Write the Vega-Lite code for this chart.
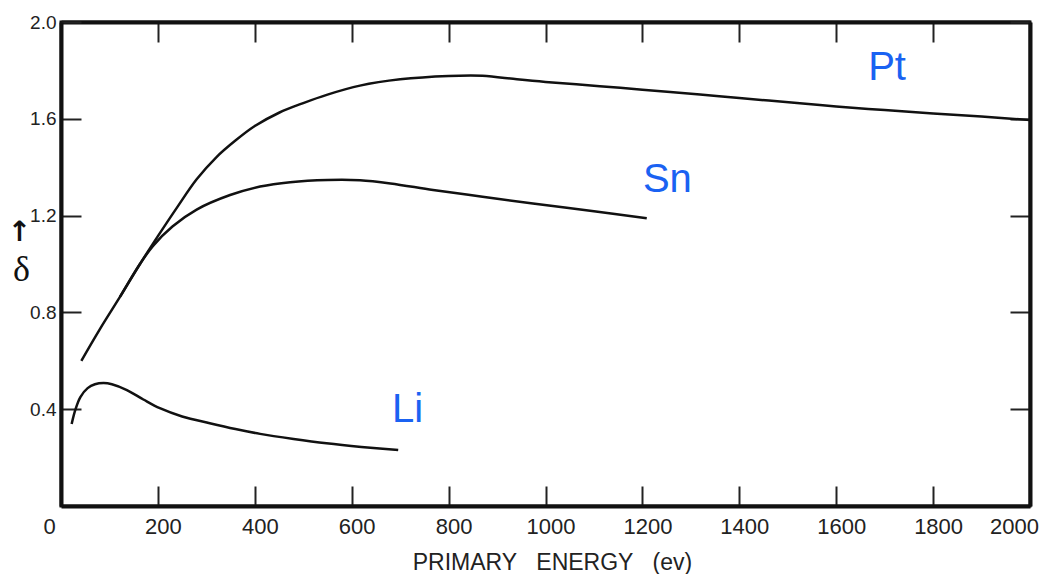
{
  "$schema": "https://vega.github.io/schema/vega-lite/v6.json",
  "width": 969,
  "height": 484,
  "autosize": {"type": "none"},
  "padding": {"left": 61, "top": 22, "right": 23, "bottom": 68},
  "background": "white",
  "config": {
    "view": {"stroke": "#111", "strokeWidth": 3},
    "axis": {"grid": false, "labelFlush": false, "domainColor": "#111", "domainWidth": 4, "tickColor": "#222", "tickWidth": 2, "tickSize": -20, "labelFont": "Liberation Sans", "labelColor": "#222", "titleFont": "Liberation Sans", "titleColor": "#222", "titleFontWeight": "normal"}
  },
  "datasets": {
    "curves": [
      {"material": "Pt", "E": 42, "delta": 0.60},
      {"material": "Pt", "E": 80, "delta": 0.73},
      {"material": "Pt", "E": 122, "delta": 0.865},
      {"material": "Pt", "E": 163, "delta": 1.0},
      {"material": "Pt", "E": 200, "delta": 1.115},
      {"material": "Pt", "E": 240, "delta": 1.235},
      {"material": "Pt", "E": 280, "delta": 1.35},
      {"material": "Pt", "E": 320, "delta": 1.44},
      {"material": "Pt", "E": 360, "delta": 1.51},
      {"material": "Pt", "E": 400, "delta": 1.57},
      {"material": "Pt", "E": 450, "delta": 1.625},
      {"material": "Pt", "E": 500, "delta": 1.665},
      {"material": "Pt", "E": 550, "delta": 1.70},
      {"material": "Pt", "E": 617, "delta": 1.737},
      {"material": "Pt", "E": 700, "delta": 1.763},
      {"material": "Pt", "E": 800, "delta": 1.777},
      {"material": "Pt", "E": 870, "delta": 1.778},
      {"material": "Pt", "E": 941, "delta": 1.763},
      {"material": "Pt", "E": 1000, "delta": 1.752},
      {"material": "Pt", "E": 1112, "delta": 1.735},
      {"material": "Pt", "E": 1200, "delta": 1.72},
      {"material": "Pt", "E": 1319, "delta": 1.70},
      {"material": "Pt", "E": 1400, "delta": 1.686},
      {"material": "Pt", "E": 1525, "delta": 1.664},
      {"material": "Pt", "E": 1600, "delta": 1.651},
      {"material": "Pt", "E": 1700, "delta": 1.636},
      {"material": "Pt", "E": 1800, "delta": 1.622},
      {"material": "Pt", "E": 1900, "delta": 1.609},
      {"material": "Pt", "E": 2000, "delta": 1.595},
      {"material": "Sn", "E": 122, "delta": 0.865},
      {"material": "Sn", "E": 163, "delta": 1.0},
      {"material": "Sn", "E": 190, "delta": 1.075},
      {"material": "Sn", "E": 230, "delta": 1.155},
      {"material": "Sn", "E": 280, "delta": 1.225},
      {"material": "Sn", "E": 349, "delta": 1.285},
      {"material": "Sn", "E": 411, "delta": 1.32},
      {"material": "Sn", "E": 473, "delta": 1.338},
      {"material": "Sn", "E": 550, "delta": 1.347},
      {"material": "Sn", "E": 617, "delta": 1.346},
      {"material": "Sn", "E": 680, "delta": 1.333},
      {"material": "Sn", "E": 768, "delta": 1.306},
      {"material": "Sn", "E": 870, "delta": 1.278},
      {"material": "Sn", "E": 974, "delta": 1.25},
      {"material": "Sn", "E": 1100, "delta": 1.218},
      {"material": "Sn", "E": 1209, "delta": 1.189},
      {"material": "Li", "E": 22, "delta": 0.339},
      {"material": "Li", "E": 30, "delta": 0.40},
      {"material": "Li", "E": 40, "delta": 0.45},
      {"material": "Li", "E": 55, "delta": 0.487},
      {"material": "Li", "E": 70, "delta": 0.503},
      {"material": "Li", "E": 88, "delta": 0.508},
      {"material": "Li", "E": 105, "delta": 0.503},
      {"material": "Li", "E": 136, "delta": 0.479},
      {"material": "Li", "E": 170, "delta": 0.44},
      {"material": "Li", "E": 204, "delta": 0.404},
      {"material": "Li", "E": 250, "delta": 0.37},
      {"material": "Li", "E": 307, "delta": 0.342},
      {"material": "Li", "E": 360, "delta": 0.318},
      {"material": "Li", "E": 411, "delta": 0.298},
      {"material": "Li", "E": 480, "delta": 0.277},
      {"material": "Li", "E": 548, "delta": 0.259},
      {"material": "Li", "E": 620, "delta": 0.244},
      {"material": "Li", "E": 696, "delta": 0.231}
    ],
    "labels": [
      {"label": "Pt", "E": 1666, "delta": 1.76},
      {"label": "Sn", "E": 1201, "delta": 1.297},
      {"label": "Li", "E": 683, "delta": 0.347}
    ]
  },
  "layer": [
    {
      "data": {"name": "curves"},
      "mark": {"type": "line", "color": "#111", "strokeWidth": 2.5, "interpolate": "catmull-rom"},
      "encoding": {
        "x": {"field": "E", "type": "quantitative", "scale": {"domain": [0, 2000], "nice": false, "zero": false},
          "axis": {"orient": "bottom", "values": [0, 200, 400, 600, 800, 1000, 1200, 1400, 1600, 1800, 2000], "format": "d", "labelFontSize": 22, "labelPadding": 30,
            "labelOffset": {"condition": [{"test": "datum.value == 0", "value": -12}, {"test": "datum.value == 2000", "value": -16}], "value": 5},
            "title": "PRIMARY\u00a0\u00a0\u00a0ENERGY\u00a0\u00a0\u00a0(ev)", "titleFontSize": 23, "titleX": 491, "titleY": 63, "titleAlign": "center", "titleBaseline": "alphabetic"}},
        "y": {"field": "delta", "type": "quantitative", "scale": {"domain": [0, 2], "nice": false},
          "axis": {"orient": "left", "values": [0.4, 0.8, 1.2, 1.6, 2.0], "format": ".1f", "labelFontSize": 19, "labelPadding": 25,
            "title": "δ", "titleFont": "Liberation Serif", "titleFontSize": 36, "titleColor": "#111", "titleAngle": 0, "titleAlign": "center", "titleBaseline": "alphabetic", "titleX": -40, "titleY": 258}},
        "detail": {"field": "material", "type": "nominal"}
      }
    },
    {
      "data": {"name": "labels"},
      "mark": {"type": "text", "color": "#1a62f2", "font": "Liberation Sans", "fontSize": 40, "align": "left", "baseline": "alphabetic"},
      "encoding": {
        "x": {"field": "E", "type": "quantitative", "axis": {"orient": "top", "values": [0, 200, 400, 600, 800, 1000, 1200, 1400, 1600, 1800, 2000], "labels": false, "title": null}},
        "y": {"field": "delta", "type": "quantitative", "axis": {"orient": "right", "values": [0.4, 0.8, 1.2, 1.6, 2.0], "labels": false,
          "title": "↑", "titleFont": "DejaVu Sans", "titleFontSize": 28, "titleFontWeight": "bold", "titleColor": "#111", "titleAngle": 0, "titleAlign": "center", "titleBaseline": "alphabetic", "titleX": -1011, "titleY": 218}},
        "text": {"field": "label", "type": "nominal"}
      }
    }
  ],
  "resolve": {"axis": {"x": "independent", "y": "independent"}}
}
